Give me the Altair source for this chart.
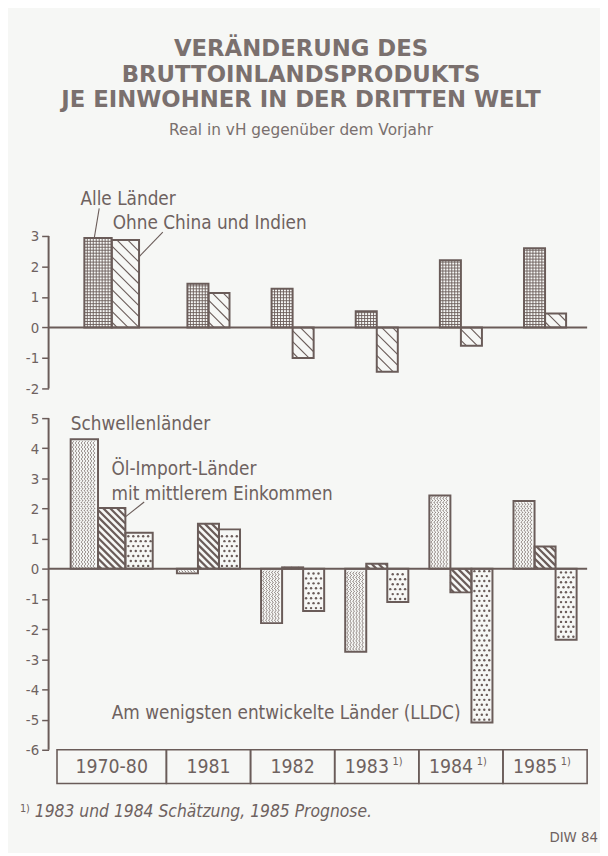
import altair as alt
import pandas as pd

# ---------------- data ----------------
categories = ["1970-80", "1981", "1982", "1983", "1984", "1985"]
category_notes = ["", "", "", "1)", "1)", "1)"]

top_series = ["Alle Länder", "Ohne China und Indien"]
alle_laender = [2.93, 1.43, 1.27, 0.53, 2.20, 2.60]
ohne_china_indien = [2.87, 1.13, -1.00, -1.45, -0.60, 0.46]

bottom_series = ["Schwellenländer", "Öl-Import-Länder mit mittlerem Einkommen",
                 "Am wenigsten entwickelte Länder (LLDC)"]
schwellenlaender = [4.30, -0.15, -1.80, -2.75, 2.43, 2.25]
oel_import_laender = [2.02, 1.50, 0.05, 0.17, -0.78, 0.74]
lldc = [1.20, 1.31, -1.40, -1.10, -5.10, -2.35]

top_ticks = [-2, -1, 0, 1, 2, 3]
bottom_ticks = [-6, -5, -4, -3, -2, -1, 0, 1, 2, 3, 4, 5]

title_lines = ["VERÄNDERUNG DES", "BRUTTOINLANDSPRODUKTS", "JE EINWOHNER IN DER DRITTEN WELT"]
subtitle = "Real in vH gegenüber dem Vorjahr"
label_alle = "Alle Länder"
label_ohne = "Ohne China und Indien"
label_schwellen = "Schwellenländer"
label_oel = ["Öl-Import-Länder", "mit mittlerem Einkommen"]
label_lldc = "Am wenigsten entwickelte Länder (LLDC)"
footnote_mark = "1)"
footnote = "1983 und 1984 Schätzung, 1985 Prognose."
source = "DIW 84"

# ---------------- style / layout ----------------
INK = "#6a5c59"
TXT = "#6e6260"
TITLE_C = "#7a706e"
BG = "#f6f7f5"
FONT = "DejaVu Sans Condensed, Liberation Sans Narrow, DejaVu Sans, sans-serif"
TFONT = "DejaVu Sans, Liberation Sans, sans-serif"

W = 544
XMAX = 6.4
XPX = W / XMAX
TOP_H = 154
TOP_DOM = [-2, 3]
YPX_T = TOP_H / (TOP_DOM[1] - TOP_DOM[0])
BOT_H = 370
BOT_DOM = [-7.15, 5]
YPX_B = BOT_H / (BOT_DOM[1] - BOT_DOM[0])

PANEL_TICKS = {"top": top_ticks, "bottom": bottom_ticks}
PANEL_DOM = {"top": TOP_DOM, "bottom": BOT_DOM}


def cat_box(i):
    w = 1.3 if i == 0 else 1.0
    left = 0.1 if i == 0 else i + 0.4
    return left, w


def bar_table(series_names, series_values):
    rows = []
    n = len(series_names)
    for s, (name, vals) in enumerate(zip(series_names, series_values)):
        for i, v in enumerate(vals):
            left, w = cat_box(i)
            cc = left + w / 2
            bw = 0.25 * w
            x0 = cc + (s - n / 2) * bw
            rows.append(dict(series=name, s=s, i=i, x0=x0, x1=x0 + bw, v=v,
                             lo=min(0.0, v), hi=max(0.0, v)))
    return pd.DataFrame(rows)


def px(r, ypx):
    return r.x0 * XPX, r.x1 * XPX, r.lo * ypx, r.hi * ypx


def segs_to_df(segs, ypx):
    return pd.DataFrame([dict(x=a / XPX, y=b / ypx, x2=c / XPX, y2=d / ypx) for a, b, c, d in segs])


def crosshatch(df, ypx, step=3.0):
    segs = []
    for r in df.itertuples():
        X0, X1, Ylo, Yhi = px(r, ypx)
        X = X0 + step
        while X < X1 - 1:
            segs.append((X, Ylo, X, Yhi))
            X += step
        Y = Ylo + step
        while Y < Yhi - 1:
            segs.append((X0, Y, X1, Y))
            Y += step
    return segs_to_df(segs, ypx)


def diagonal(df, ypx, step):
    segs = []
    for r in df.itertuples():
        X0, X1, Ylo, Yhi = px(r, ypx)
        c = Ylo + step / 2
        while c < Yhi + (X1 - X0):
            xa = max(X0, X0 + c - Yhi)
            xb = min(X1, X0 + c - Ylo)
            if xb - xa > 0.8:
                segs.append((xa, c - (xa - X0), xb, c - (xb - X0)))
            c += step
    return segs_to_df(segs, ypx)


def dots(df, ypx, step=5.0):
    pts = []
    for r in df.itertuples():
        X0, X1, Ylo, Yhi = px(r, ypx)
        Y = Ylo + 3
        row = 0
        while Y < Yhi - 2:
            X = X0 + 3 + (row % 2) * step / 2
            while X < X1 - 2:
                pts.append(dict(x=X / XPX, y=Y / ypx))
                X += step
            Y += step
            row += 1
    return pd.DataFrame(pts)


def waves(df, ypx, step=3.0):
    pts = []
    lid = 0
    for r in df.itertuples():
        X0, X1, Ylo, Yhi = px(r, ypx)
        X = X0 + 2.5
        while X < X1 - 1.5:
            Y = Ylo + 1
            k = 0
            while Y <= Yhi - 1:
                off = 0.8 if k % 2 == 0 else -0.8
                pts.append(dict(x=(X + off) / XPX, y=Y / ypx, lid=lid, o=k))
                Y += 2.0
                k += 1
            lid += 1
            X += step
    return pd.DataFrame(pts)


def xq(field):
    return alt.X(field, type="quantitative",
                 scale=alt.Scale(domain=[0, XMAX], nice=False, zero=False), axis=None)


def yq(field, panel):
    ax = alt.Axis(values=PANEL_TICKS[panel],
                  labelExpr="datum.value < 0 ? '-' + abs(datum.value) : '' + datum.value",
                  domain=False, grid=False, ticks=True, tickSize=7, tickWidth=1.5, tickColor=INK,
                  labelColor=TXT, labelFont=FONT, labelFontSize=15, labelPadding=3, title=None)
    return alt.Y(field, type="quantitative",
                 scale=alt.Scale(domain=PANEL_DOM[panel], nice=False, zero=False), axis=ax, title=None)


def rules(df, panel, width, color=INK, opacity=1.0):
    return alt.Chart(df).mark_rule(strokeWidth=width, color=color, opacity=opacity).encode(
        x=xq("x"), x2="x2", y=yq("y", panel), y2="y2")


def text_layer(df, panel, **kw):
    return alt.Chart(df).mark_text(**kw).encode(x=xq("x"), y=yq("y", panel), text="t:N")


# ---------------- top panel ----------------
top_bars = bar_table(top_series, [alle_laender, ohne_china_indien])
ta = top_bars[top_bars.s == 0]
to = top_bars[top_bars.s == 1]

axis_top = pd.DataFrame([dict(x=0, x2=0, y=TOP_DOM[0], y2=TOP_DOM[1]),
                         dict(x=0, x2=XMAX, y=0, y2=0)])

a0 = ta.iloc[0]
o0 = to.iloc[0]
top_labels = pd.DataFrame([
    dict(t=label_alle, x=a0.x0 - 4 / XPX, y=a0.v + 33 / YPX_T),
    dict(t=label_ohne, x=o0.x0 + 1 / XPX, y=o0.v + 11 / YPX_T),
])
top_leaders = pd.DataFrame([
    dict(x=a0.x0 + 10 / XPX, y=a0.v, x2=a0.x0 + 15 / XPX, y2=a0.v + 30 / YPX_T),
    dict(x=o0.x1, y=o0.v - 17 / YPX_T, x2=o0.x1 + 24 / XPX, y2=o0.v + 8 / YPX_T),
])

outline_top = alt.Chart(top_bars).mark_rect(fillOpacity=0, stroke=INK, strokeWidth=2).encode(
    x=xq("x0"), x2="x1", y=yq("lo", "top"), y2="hi")

title_layers = []
for txt, yy, fs, bold in [(title_lines[0], -182, 23, True), (title_lines[1], -155.5, 23, True),
                          (title_lines[2], -130, 23, True), (subtitle, -102, 15.5, False)]:
    title_layers.append(
        alt.Chart(pd.DataFrame({"t": [txt]})).mark_text(
            font=TFONT, fontSize=fs, fontWeight="bold" if bold else "normal", color=TITLE_C,
            align="center", baseline="alphabetic").encode(
            x=alt.value(255), y=alt.value(yy), text="t:N"))

top = alt.layer(
    rules(axis_top, "top", 2),
    rules(crosshatch(ta, YPX_T), "top", 0.9),
    rules(diagonal(to, YPX_T, 11.0), "top", 1.1),
    outline_top,
    rules(top_leaders, "top", 1.1),
    text_layer(top_labels, "top", font=FONT, fontSize=19, color=TXT, align="left", baseline="alphabetic"),
    *title_layers,
).properties(width=W, height=TOP_H)

# ---------------- bottom panel ----------------
bot_bars = bar_table(bottom_series, [schwellenlaender, oel_import_laender, lldc])
bs = bot_bars[bot_bars.s == 0]
bo = bot_bars[bot_bars.s == 1]
bl = bot_bars[bot_bars.s == 2]

axis_bot = pd.DataFrame([dict(x=0, x2=0, y=-6, y2=5),
                         dict(x=0, x2=XMAX, y=0, y2=0)])

box_rows = []
cat_rows = []
note_rows = []
for i, c in enumerate(categories):
    left, w = cat_box(i)
    cc = left + w / 2
    box_rows.append(dict(x0=left, x1=left + w, y0=-7.12, y1=-6.0))
    has_note = category_notes[i] != ""
    cat_rows.append(dict(t=c, x=cc - (10 / XPX if has_note else 0), y=-6.56))
    if has_note:
        note_rows.append(dict(t=category_notes[i], x=cc + 21 / XPX, y=-6.56 + 5 / YPX_B))
boxes = pd.DataFrame(box_rows)

s0 = bs.iloc[0]
o1 = bo.iloc[0]
l4 = bl.iloc[4]
bot_labels_left = pd.DataFrame([
    dict(t=label_schwellen, x=s0.x0, y=s0.v + 9 / YPX_B),
    dict(t=label_oel[0], x=o1.x1 - 14 / XPX, y=o1.v + 33 / YPX_B),
    dict(t=label_oel[1], x=o1.x1 - 14 / XPX, y=o1.v + 8 / YPX_B),
])
bot_labels_right = pd.DataFrame([
    dict(t=label_lldc, x=l4.x0 - 11 / XPX, y=l4.v + 4 / YPX_B),
])
bot_leaders = pd.DataFrame([
    dict(x=o1.x1, y=o1.v - 9 / YPX_B, x2=o1.x1 + 19 / XPX, y2=o1.v + 6 / YPX_B),
])

outline_bot = alt.Chart(bot_bars).mark_rect(fillOpacity=0, stroke=INK, strokeWidth=2).encode(
    x=xq("x0"), x2="x1", y=yq("lo", "bottom"), y2="hi")

wave_df = waves(bs, YPX_B)
wave_layer = alt.Chart(wave_df).mark_line(strokeWidth=0.9, color=INK, opacity=0.9, interpolate="cardinal").encode(
    x=xq("x"), y=yq("y", "bottom"), detail="lid:N", order="o:Q")

dot_layer = alt.Chart(dots(bl, YPX_B)).mark_circle(size=6, color=INK, opacity=1).encode(
    x=xq("x"), y=yq("y", "bottom"))

box_layer = alt.Chart(boxes).mark_rect(fillOpacity=0, stroke=INK, strokeWidth=1.6).encode(
    x=xq("x0"), x2="x1", y=yq("y0", "bottom"), y2="y1")

foot_layers = [
    alt.Chart(pd.DataFrame({"t": [footnote_mark]})).mark_text(
        font=FONT, fontSize=11, color=TXT, align="left", baseline="alphabetic").encode(
        x=alt.value(-29), y=alt.value(398), text="t:N"),
    alt.Chart(pd.DataFrame({"t": [footnote]})).mark_text(
        font=FONT, fontSize=17.5, fontStyle="italic", color=TXT, align="left", baseline="alphabetic").encode(
        x=alt.value(-14), y=alt.value(403), text="t:N"),
    alt.Chart(pd.DataFrame({"t": [source]})).mark_text(
        font=FONT, fontSize=15, color=TXT, align="right", baseline="alphabetic").encode(
        x=alt.value(555), y=alt.value(428), text="t:N"),
]

bottom = alt.layer(
    rules(axis_bot, "bottom", 2),
    wave_layer,
    rules(diagonal(bo, YPX_B, 7.0), "bottom", 2.2),
    dot_layer,
    outline_bot,
    box_layer,
    text_layer(pd.DataFrame(cat_rows), "bottom", font=FONT, fontSize=19.5, color=TXT, align="center", baseline="middle"),
    text_layer(pd.DataFrame(note_rows), "bottom", font=FONT, fontSize=11, color=TXT, align="center", baseline="middle"),
    rules(bot_leaders, "bottom", 1.1),
    text_layer(bot_labels_left, "bottom", font=FONT, fontSize=19, color=TXT, align="left", baseline="alphabetic"),
    text_layer(bot_labels_right, "bottom", font=FONT, fontSize=19, color=TXT, align="right", baseline="alphabetic"),
    *foot_layers,
).properties(width=W, height=BOT_H)

chart = alt.vconcat(top, bottom, spacing=30, bounds="flush").properties(
    padding={"left": 12, "top": 26, "right": 2, "bottom": 4}
).configure(background=BG).configure_view(stroke=None)

chart.save("out.html", embed_options={"renderer": "svg", "actions": False})
